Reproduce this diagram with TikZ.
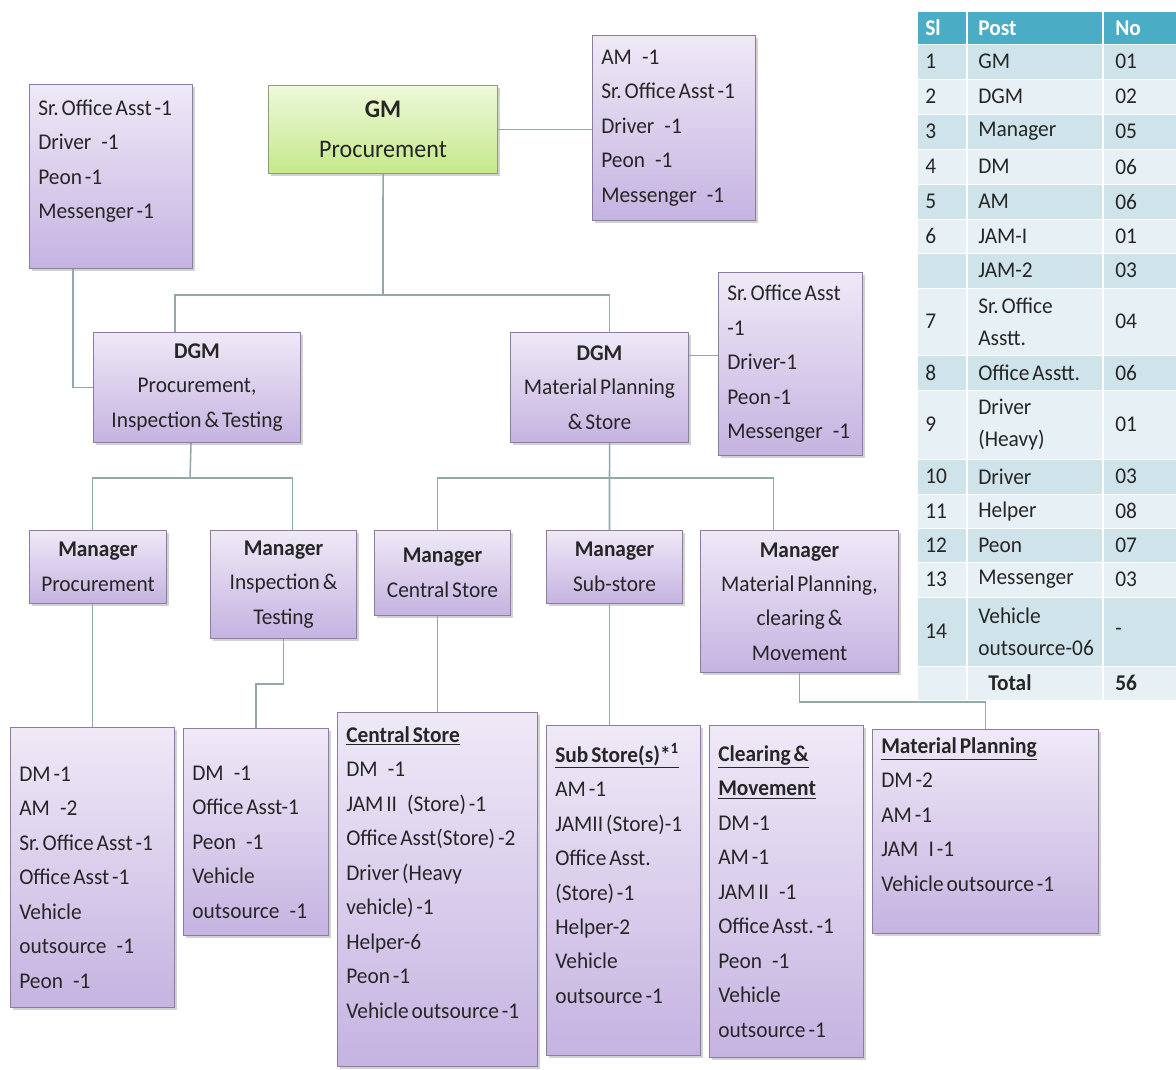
\documentclass[tikz,border=0pt]{standalone}
\usepackage{fontspec}
\setmainfont{Carlito}[FakeStretch=0.95, WordSpace=0.6]
\frenchspacing
\usepackage{tikz}
\usetikzlibrary{shadows,positioning}
\usepackage{xcolor}

\definecolor{lavtop}{HTML}{EFE9F7}
\definecolor{lavbot}{HTML}{C5B3E1}
\definecolor{lavline}{HTML}{8C7DA0}
\definecolor{gmtop}{HTML}{EEF9DA}
\definecolor{gmbot}{HTML}{C4E98A}
\definecolor{gmline}{HTML}{8E9C78}
\definecolor{linkgrey}{HTML}{93A8AB}
\definecolor{txt}{HTML}{262626}
\definecolor{tabhead}{HTML}{4BACC6}
\definecolor{tabdark}{HTML}{CFE3EA}
\definecolor{tablight}{HTML}{E7F1F5}

\newcommand{\gap}{\hspace{0.45em}}

\tikzset{
  orgbox/.style={draw=lavline, line width=0.7pt, top color=lavtop, bottom color=lavbot,
    drop shadow={shadow xshift=1.5pt, shadow yshift=-1.5pt, opacity=0.35},
    anchor=north west, align=center, inner sep=2pt, text=txt,
    font=\fontsize{16}{24.5}\selectfont},
  staffbox/.style={orgbox, align=flush left, inner xsep=0.22cm},
  gmbox/.style={orgbox, draw=gmline, top color=gmtop, bottom color=gmbot,
    font=\fontsize{18}{28.4}\selectfont},
  link/.style={draw=linkgrey, line width=1.1pt},
  cell/.style={anchor=west, align=left, text=txt, inner sep=0pt,
    font=\fontsize{16}{23}\selectfont},
}

\begin{document}
\begin{tikzpicture}[x=0.025cm, y=-0.025cm]
    \fill[white] (0,0) rectangle (1176,1070);
    \useasboundingbox (0,0) rectangle (1176,1070);

    % Top level
    \node[gmbox, minimum width=5.725cm, minimum height=2.2cm] (gm) at (268,85)
        {\textbf{GM}\\Procurement};
    \node[staffbox, text width=3.635cm, minimum height=4.6cm] (gmstaffL) at (29,84)
        {Sr. Office Asst -1\\Driver\gap-1\\Peon -1\\Messenger -1\\\mbox{}};
    \node[staffbox, text width=3.635cm, minimum height=4.625cm] (gmstaffR) at (592,35)
        {AM\gap-1\\Sr. Office Asst -1\\Driver\gap-1\\Peon\gap-1\\Messenger\gap-1};

    % DGMs
    \node[orgbox, minimum width=5.175cm, minimum height=2.75cm] (dgmP) at (93,332)
        {\textbf{DGM}\\Procurement,\\Inspection \& Testing};
    \node[orgbox, minimum width=4.45cm, minimum height=2.75cm] (dgmM) at (510,332)
        {\textbf{DGM}\\Material Planning\\\& Store};
    \node[staffbox, text width=3.16cm, minimum height=4.575cm] (dgmstaff) at (718,272)
        {Sr. Office Asst\\-1\\Driver-1\\Peon -1\\Messenger\gap-1};

    % Managers
    \node[orgbox, minimum width=3.425cm, minimum height=1.825cm] (mgrP) at (29,530)
        {\textbf{Manager}\\Procurement};
    \node[orgbox, minimum width=3.65cm, minimum height=2.7cm] (mgrIT) at (210,530)
        {\textbf{Manager}\\Inspection \&\\Testing};
    \node[orgbox, minimum width=3.4cm, minimum height=2.125cm] (mgrCS) at (374,530)
        {\textbf{Manager}\\Central Store};
    \node[orgbox, minimum width=3.4cm, minimum height=1.825cm] (mgrSS) at (546,530)
        {\textbf{Manager}\\Sub-store};
    \node[orgbox, minimum width=4.95cm, minimum height=3.55cm] (mgrMP) at (700,530)
        {\textbf{Manager}\\Material Planning,\\clearing \&\\Movement};

    % Staff under managers
    \node[staffbox, text width=3.66cm, minimum height=7cm] (b1) at (10,727)
        {\mbox{}\\DM -1\\AM\gap-2\\Sr. Office Asst -1\\Office Asst -1\\Vehicle\\outsource\gap-1\\Peon\gap-1};
    \node[staffbox, text width=3.185cm, minimum height=5.175cm] (b2) at (183,728)
        {\mbox{}\\DM\gap-1\\Office Asst-1\\Peon\gap-1\\Vehicle\\outsource\gap-1};
    \node[staffbox, text width=4.56cm, minimum height=8.85cm] (b3) at (337,712)
        {\underline{\textbf{Central Store}}\\DM\gap-1\\JAM II\gap(Store) -1\\Office Asst(Store) -2\\Driver (Heavy\\vehicle) -1\\Helper-6\\Peon -1\\Vehicle outsource -1\\\mbox{}};
    \node[staffbox, text width=3.41cm, minimum height=8.25cm] (b4) at (546,725)
        {\underline{\textbf{Sub Store(s)*\textsuperscript{1}}}\\AM -1\\JAMII (Store)-1\\Office Asst.\\(Store) -1\\Helper-2\\Vehicle\\outsource -1\\\mbox{}};
    \node[staffbox, text width=3.41cm, minimum height=8.3cm] (b5) at (709,725)
        {\underline{\textbf{Clearing \&}}\\\underline{\textbf{Movement}}\\DM -1\\AM -1\\JAM II\gap-1\\Office Asst. -1\\Peon\gap-1\\Vehicle\\outsource -1};
    \node[staffbox, text width=5.21cm, minimum height=5.1cm] (b6) at (872,729)
        {\underline{\textbf{Material Planning}}\\DM -2\\AM -1\\JAM\gap I -1\\Vehicle outsource -1\\\mbox{}};

    % Connectors
    \coordinate (busgm) at (383,295);
    \coordinate (busp) at (190,478);
    \coordinate (busm) at (609,478);
    \draw[link] (gm.east) -- (gm.east -| gmstaffR.west);
    \draw[link] (gm.south) -- (busgm);
    \draw[link] ([xshift=2.05cm]dgmP.north west) |- (busgm) -| ([xshift=0.25cm]dgmM.north);
    \draw[link] ([xshift=1.1cm]gmstaffL.south west) |- (dgmP.west);
    \draw[link] ([yshift=0.8cm]dgmM.east) -- ([yshift=0.8cm]dgmM.east -| dgmstaff.west);
    \draw[link] ([xshift=-0.15cm]dgmP.south) -- (busp);
    \draw[link] (b1.north |- mgrP.north) |- (busp) -| ([xshift=0.225cm]mgrIT.north);
    \draw[link] (b1.north) -- (b1.north |- mgrP.south);
    \draw[link] (mgrIT.south) -- ++(0,45) -| (b2.north);
    \draw[link] ([xshift=0.25cm]dgmM.south) -- ([xshift=-0.125cm]mgrSS.north);
    \draw[link] (b3.north |- mgrCS.north) |- (busm) -| ([xshift=-0.65cm]mgrMP.north);
    \draw[link] (b3.north) -- (b3.north |- mgrCS.south);
    \draw[link] ([xshift=-0.125cm]mgrSS.south) -- ([xshift=-0.125cm]mgrSS.south |- b4.north);
    \draw[link] (mgrMP.south) -- ++(0,29) -| (b6.north);

    % Staff table
    \fill[tabhead] (918,12) rectangle (1176,44);
    \node[cell, text=white, font=\fontsize{16}{23}\selectfont\bfseries] (hsl) at (925,28) {Sl};
    \node[cell, text=white, font=\fontsize{16}{23}\selectfont\bfseries] (hpost) at (978,28) {Post};
    \node[cell, text=white, font=\fontsize{16}{23}\selectfont\bfseries] (hno) at (1115,28) {No};
    \foreach \ya/\yb/\sl/\post/\no [count=\i] in {
        44/79/1/GM/01, 79/114/2/DGM/02, 114/149/3/Manager/05,
        149/184/4/DM/06, 184/219/5/AM/06, 219/253/6/JAM-I/01,
        253/288/{}/JAM-2/03, 288/355/7/{Sr. Office\\Asstt.}/04,
        355/390/8/Office Asstt./06, 390/459/9/{Driver\\(Heavy)}/01,
        459/494/10/Driver/03, 494/528/11/Helper/08, 528/562/12/Peon/07,
        562/597/13/Messenger/03, 597/666/14/{Vehicle\\outsource-06}/-,
        666/700/{}/{\hspace*{0.25cm}\textbf{Total}}/{\textbf{56}}} {
        \ifodd\i \def\band{tabdark}\else \def\band{tablight}\fi
        \fill[\band] (918,\ya) rectangle (1176,\yb);
        \draw[white, line width=0.6pt] (918,\ya) -- (1176,\ya);
        \node[cell] (sl\i) at (925,{(\ya+\yb)/2}) {\sl};
        \node[cell] (post\i) at (978,{(\ya+\yb)/2}) {\post};
        \node[cell] (no\i) at (1115,{(\ya+\yb)/2}) {\no};
    }
    \draw[white, line width=1.5pt] (967,12) -- (967,700) (1103,12) -- (1103,700);
\end{tikzpicture}
\end{document}
